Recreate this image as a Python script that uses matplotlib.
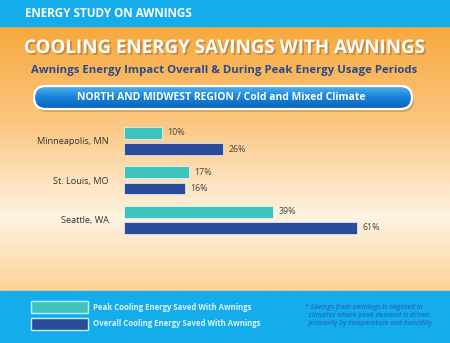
import numpy as np
import matplotlib
matplotlib.use("Agg")
import matplotlib.pyplot as plt
from matplotlib.colors import LinearSegmentedColormap
from matplotlib.patches import FancyBboxPatch, Rectangle
import matplotlib.patheffects as pe

# ==============================
# Data
# ==============================
cities = ["Minneapolis, MN", "St. Louis, MO", "Seattle, WA"]
peak_saved = [10, 17, 39]
overall_saved = [26, 16, 61]
series_names = ["Peak Cooling Energy Saved With Awnings",
                "Overall Cooling Energy Saved With Awnings"]

TEAL = "#3fc3be"
NAVY = "#2a4c9b"
BLUE = "#14acea"

plt.rcParams["font.family"] = ["Open Sans", "DejaVu Sans"]

fig = plt.figure(figsize=(4.5, 3.43), dpi=100)

# ==============================
# Background (pixel coordinates)
# ==============================
bg = fig.add_axes([0, 0, 1, 1])
bg.set_xlim(0, 450)
bg.set_ylim(343, 0)
bg.axis("off")

bg.add_patch(Rectangle((0, 0), 450, 26, color=BLUE, zorder=1))
bg.add_patch(Rectangle((0, 291), 450, 52, color=BLUE, zorder=1))

orange = LinearSegmentedColormap.from_list(
    "bgfade", [(0, "#f7a83c"), (0.35, "#fbc57e"), (0.72, "#fff3e2"), (1, "#fcd396")])
grad = np.linspace(0, 1, 256).reshape(-1, 1)
bg.imshow(grad, cmap=orange, extent=[0, 450, 291, 26], aspect="auto", zorder=0)

bg.text(25, 13.5, "ENERGY STUDY ON AWNINGS", color="white", fontsize=8.4,
        fontweight="bold", va="center", ha="left", zorder=3)

shadow = [pe.withSimplePatchShadow(offset=(1.2, -1.2), shadow_rgbFace="#7a5a30", alpha=0.45)]
bg.text(224, 48, "COOLING ENERGY SAVINGS WITH AWNINGS", color="white", fontsize=13.5,
        fontweight="bold", va="center", ha="center", zorder=3, path_effects=shadow)
bg.text(224, 70, "Awnings Energy Impact Overall & During Peak Energy Usage Periods",
        color="#2c4a8a", fontsize=8.2, fontweight="bold", va="center", ha="center", zorder=3)

# pill banner
bg.add_patch(FancyBboxPatch((36, 89), 378, 23, boxstyle="round,pad=0,rounding_size=11.5",
                            facecolor="#8a6a40", alpha=0.35, edgecolor="none", zorder=2))
pill = FancyBboxPatch((34, 86), 378, 23, boxstyle="round,pad=0,rounding_size=11.5",
                      facecolor="#1a80d2", edgecolor="white", linewidth=1.6, zorder=4)
bg.add_patch(pill)
blues = LinearSegmentedColormap.from_list("pill", ["#55b2ea", "#1682d8", "#0a60b6"])
img = bg.imshow(grad, cmap=blues, extent=[34, 412, 109, 86], aspect="auto", zorder=3)
img.set_clip_path(pill)
pill.set_facecolor("none")
bg.text(221, 97.5, "NORTH AND MIDWEST REGION / Cold and Mixed Climate", color="white",
        fontsize=7.5, fontweight="bold", va="center", ha="center", zorder=5)

# legend
bg.add_patch(Rectangle((31, 301), 57, 12, facecolor=TEAL, edgecolor="#bff0ff", lw=1, zorder=3))
bg.add_patch(Rectangle((31, 318), 57, 12, facecolor=NAVY, edgecolor="#bff0ff", lw=1, zorder=3))
bg.text(93, 307, series_names[0], color="#dff6ff", fontsize=5.6, fontweight="bold",
        va="center", ha="left", zorder=3)
bg.text(93, 324, series_names[1], color="#dff6ff", fontsize=5.6, fontweight="bold",
        va="center", ha="left", zorder=3)
bg.text(305, 315, "* Savings from awinings is negated in\n  climates where peak demand is driven\n"
        "  primarily by temperature and humidity", color="#1b78c4", fontsize=4.8,
        style="italic", fontweight="bold", va="center", ha="left", linespacing=1.25, zorder=3)

# ==============================
# Bars
# ==============================
ax = fig.add_axes([124 / 450, 1 - 240 / 343, 306 / 450, 120 / 343])
ax.patch.set_alpha(0)
y = np.arange(len(cities))
h = 0.3
ax.barh(y - 0.205, peak_saved, height=h, color=TEAL, edgecolor="#eef8f8", lw=0.5)
ax.barh(y + 0.205, overall_saved, height=h, color=NAVY, edgecolor="#eef3fa", lw=0.5)
for i in range(len(cities)):
    ax.text(peak_saved[i] + 1.4, y[i] - 0.205, f"{peak_saved[i]}%", color="#444444",
            fontsize=6.4, va="center", ha="left")
    ax.text(overall_saved[i] + 1.4, y[i] + 0.205, f"{overall_saved[i]}%", color="#444444",
            fontsize=6.4, va="center", ha="left")
ax.set_xlim(0, 80)
ax.set_ylim(2.514, -0.533)
ax.set_yticks(y)
ax.set_yticklabels(cities, fontsize=6.6, color="#333333")
ax.tick_params(axis="y", length=0, pad=11)
ax.set_xticks([])
for s in ax.spines.values():
    s.set_visible(False)

fig.savefig("out.png", dpi=100)
